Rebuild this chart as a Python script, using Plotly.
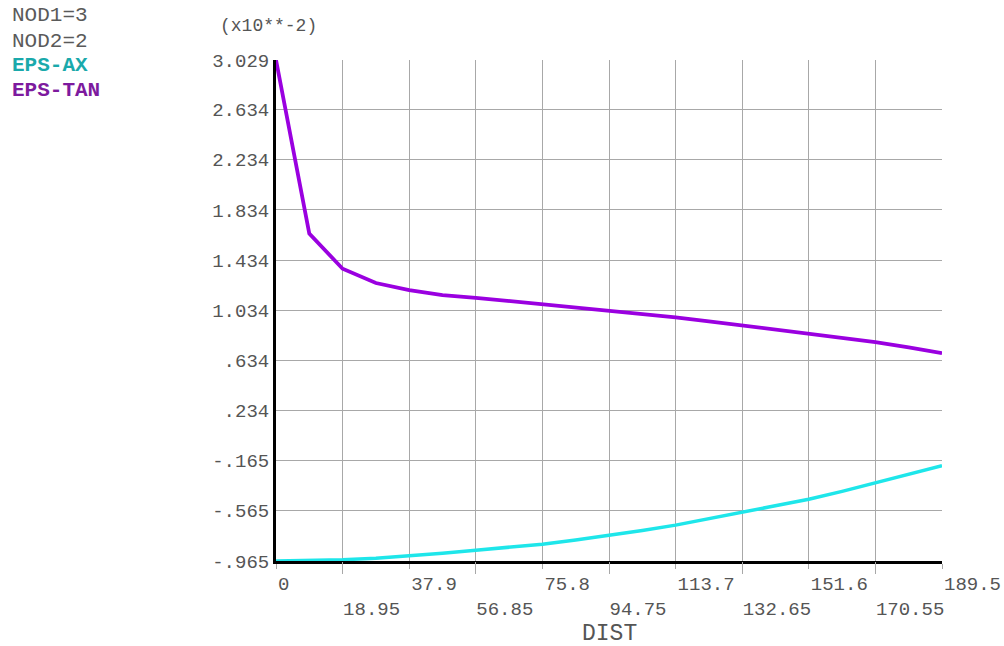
import plotly.graph_objects as go

# ---- data ----
dist = [0, 9.475, 18.95, 28.425, 37.9, 47.375, 56.85, 66.325, 75.8, 85.275, 94.75,
        104.225, 113.7, 123.175, 132.65, 142.125, 151.6, 161.075, 170.55, 180.025, 189.5]
eps_tan = [3.029, 1.645, 1.365, 1.251, 1.195, 1.155, 1.133, 1.108, 1.085, 1.057, 1.029,
           1.004, 0.978, 0.946, 0.914, 0.881, 0.847, 0.814, 0.780, 0.738, 0.692]
eps_ax = [-0.965, -0.962, -0.955, -0.943, -0.925, -0.903, -0.879, -0.856, -0.831, -0.798, -0.762,
          -0.722, -0.679, -0.628, -0.574, -0.524, -0.473, -0.410, -0.344, -0.276, -0.205]

x_ticks_upper = [0, 37.9, 75.8, 113.7, 151.6, 189.5]
x_labels_upper = ["0", "37.9", "75.8", "113.7", "151.6", "189.5"]
x_ticks_lower = [18.95, 56.85, 94.75, 132.65, 170.55]
x_labels_lower = ["18.95", "56.85", "94.75", "132.65", "170.55"]
y_ticks = [-0.965, -0.565, -0.165, 0.234, 0.634, 1.034, 1.434, 1.834, 2.234, 2.634, 3.029]
y_labels = ["-.965", "-.565", "-.165", ".234", ".634", "1.034", "1.434", "1.834", "2.234", "2.634", "3.029"]

legend_info = [("NOD1=3", "#5a5a5a", False), ("NOD2=2", "#5a5a5a", False),
               ("EPS-AX", "#1aa9ab", True), ("EPS-TAN", "#7d1a9e", True)]

# ---- layout geometry ----
W, H = 1004, 646
L, T = 276, 60
PLOT_R, PLOT_B = 942, 561
R, B = W - PLOT_R, H - PLOT_B
PW, PH = W - L - R, H - T - B
MONO = "Liberation Mono"
GRID = "#a8a8a8"
TXT = "#555555"


def px_x(p):
    # page pixel -> paper coordinate
    return (p - L) / PW


def px_y(p):
    return (H - B - p) / PH


fig = go.Figure()
fig.add_trace(go.Scatter(x=dist, y=eps_ax, mode="lines", name="EPS-AX",
                         line=dict(color="#1ee6ea", width=3.5)))
fig.add_trace(go.Scatter(x=dist, y=eps_tan, mode="lines", name="EPS-TAN",
                         line=dict(color="#9a00e0", width=3.8)))

annotations = []
for i, (txt, col, bold) in enumerate(legend_info):
    annotations.append(dict(
        text=f"<b>{txt}</b>" if bold else txt, x=px_x(10), y=px_y(16 + 25 * i),
        xref="paper", yref="paper", xanchor="left", yanchor="middle", showarrow=False,
        font=dict(family=MONO, size=21, color=col)))
annotations.append(dict(
    text="(x10**-2)", x=px_x(218), y=px_y(26), xref="paper", yref="paper",
    xanchor="left", yanchor="middle", showarrow=False,
    font=dict(family=MONO, size=18, color=TXT)))
annotations.append(dict(
    text="DIST", x=0.5, y=px_y(634), xref="paper", yref="paper",
    xanchor="center", yanchor="middle", showarrow=False,
    font=dict(family=MONO, size=23, color=TXT)))

fig.update_layout(
    width=W, height=H,
    margin=dict(l=L, r=R, t=T, b=B, pad=0, autoexpand=False),
    paper_bgcolor="white", plot_bgcolor="white",
    showlegend=False,
    annotations=annotations,
    xaxis=dict(
        range=[0, 189.5], tickmode="array", tickvals=x_ticks_upper, ticktext=x_labels_upper,
        showgrid=True, gridcolor=GRID, gridwidth=1, zeroline=False, automargin=False,
        showline=True, linecolor="black", linewidth=3, layer="below traces",
        ticks="outside", ticklen=5, tickcolor=GRID, tickwidth=1,
        ticklabelposition="outside right", ticklabelstandoff=3,
        tickfont=dict(family=MONO, size=19, color=TXT),
    ),
    xaxis2=dict(
        range=[0, 189.5], overlaying="x", anchor="y", side="bottom", automargin=False,
        tickmode="array", tickvals=x_ticks_lower, ticktext=x_labels_lower,
        showgrid=True, gridcolor=GRID, gridwidth=1, zeroline=False, showline=False,
        ticks="outside", ticklen=12, tickcolor=GRID, tickwidth=1,
        ticklabelposition="outside right", ticklabelstandoff=30,
        tickfont=dict(family=MONO, size=19, color=TXT), layer="below traces",
    ),
    yaxis=dict(
        range=[-0.965, 3.029], tickmode="array", tickvals=y_ticks, ticktext=y_labels,
        showgrid=True, gridcolor=GRID, gridwidth=1, zeroline=False, automargin=False,
        showline=True, linecolor="black", linewidth=3, layer="below traces",
        ticks="",
        tickfont=dict(family=MONO, size=19, color=TXT),
    ),
)
# invisible helper trace so the second (lower-row) x axis is drawn
fig.add_trace(go.Scatter(x=[0, 189.5], y=[-0.965, -0.965], xaxis="x2", mode="lines",
                         line=dict(width=0), hoverinfo="skip", showlegend=False, opacity=0))

fig.write_html("out.html", config={"displayModeBar": False},
               post_script="document.body.style.margin='0';document.body.style.overflow='hidden';")
